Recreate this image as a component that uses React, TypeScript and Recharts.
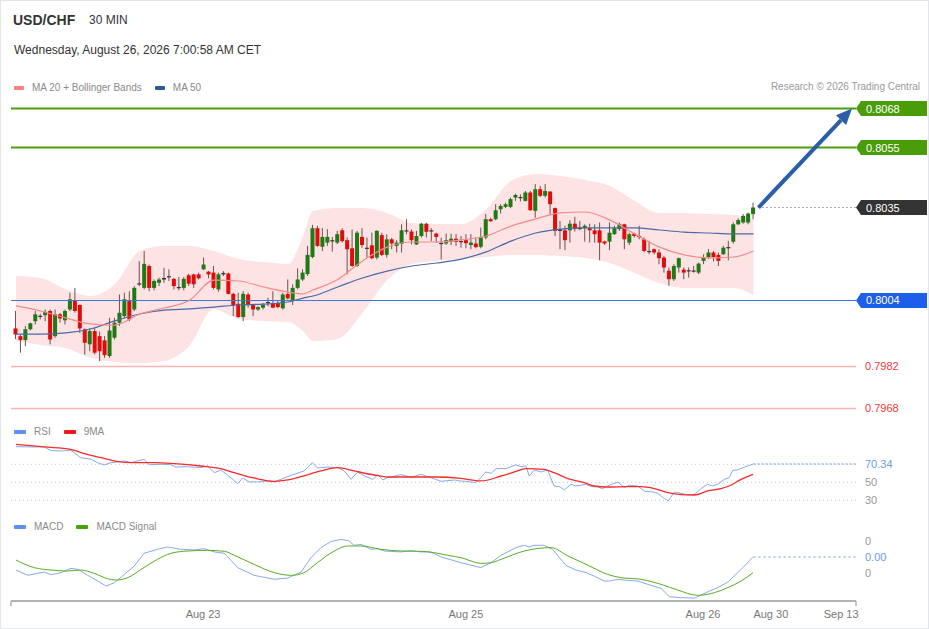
import React from 'react';
import { ComposedChart, Bar, Line, Area, XAxis, YAxis, ReferenceLine } from 'recharts';

// prices are in pips (price x 10000), one candle per 30 minutes
const open = [
  7994.7, 7992.1, 7990.8, 7994.4, 7997.1, 7998.8, 7999.1, 8000.5, 7992.1, 7999.4,
  7997.4, 8001.0, 8004.0, 8002.5, 7994.4, 7989.4, 7993.8, 7992.1, 7990.7, 7985.5,
  7991.6, 7996.6, 7998.8, 8003.8, 8001.0, 8009.6, 8008.2, 8015.5, 8008.2, 8009.9,
  8011.0, 8012.1, 8011.2, 8008.5, 8008.2, 8012.4, 8012.7, 8012.7, 8014.4, 8013.6,
  8013.3, 8007.7, 8012.7, 8013.0, 8006.2, 8002.9, 7998.5, 8006.0, 8002.5, 8001.0,
  8001.6, 8003.5, 8003.2, 8003.2, 8001.4, 8006.2, 8004.0, 8008.2, 8011.0, 8012.8,
  8018.5, 8028.1, 8021.9, 8023.3, 8024.1, 8023.3, 8027.4, 8024.1, 8021.4, 8015.5,
  8025.2, 8021.6, 8022.4, 8018.3, 8025.8, 8019.2, 8024.4, 8022.2, 8022.9, 8027.4,
  8027.0, 8022.7, 8025.5, 8029.6, 8027.4, 8026.3, 8023.2, 8023.0, 8023.6, 8024.6,
  8023.8, 8024.1, 8022.5, 8023.0, 8021.9, 8025.0, 8031.1, 8031.1, 8034.4, 8035.2,
  8035.2, 8038.3, 8038.4, 8037.2, 8040.0, 8033.9, 8041.1, 8038.9, 8040.3, 8034.8,
  8027.7, 8027.4, 8027.4, 8029.6, 8028.3, 8028.1, 8028.1, 8027.4, 8027.4, 8023.7,
  8023.6, 8026.1, 8027.8, 8029.4, 8023.3, 8026.3, 8025.5, 8024.4, 8020.5, 8021.1,
  8020.0, 8018.3, 8013.9, 8011.1, 8015.0, 8014.3, 8014.1, 8013.6, 8013.3, 8017.2,
  8018.5, 8020.0, 8019.2, 8019.4, 8021.6, 8023.6, 8029.4, 8030.0, 8030.0, 8032.8,
];
const high = [
  8000.5, 7992.7, 7995.5, 7996.6, 8000.5, 7999.6, 8001.0, 8001.0, 8001.0, 7999.9,
  8001.0, 8006.6, 8008.2, 8002.7, 7994.7, 7994.7, 7994.7, 7993.6, 7992.1, 7998.2,
  7998.2, 8006.0, 8006.6, 8007.1, 8008.8, 8017.1, 8020.5, 8016.0, 8011.0, 8011.6,
  8014.9, 8014.4, 8011.6, 8011.8, 8011.8, 8012.9, 8012.9, 8013.3, 8018.3, 8013.8,
  8015.5, 8013.3, 8013.8, 8013.3, 8006.6, 8006.6, 8007.1, 8006.6, 8002.7, 8002.1,
  8003.2, 8004.9, 8007.1, 8004.0, 8006.6, 8011.0, 8009.4, 8014.7, 8014.4, 8022.2,
  8029.2, 8028.9, 8028.1, 8027.8, 8025.2, 8027.2, 8028.1, 8025.0, 8027.7, 8027.2,
  8028.1, 8025.0, 8026.6, 8027.4, 8026.6, 8026.1, 8024.9, 8024.1, 8029.4, 8031.1,
  8027.7, 8027.2, 8029.9, 8029.9, 8028.1, 8026.6, 8024.9, 8026.3, 8026.3, 8026.1,
  8025.5, 8026.1, 8026.1, 8025.0, 8028.3, 8032.8, 8031.6, 8036.1, 8036.1, 8036.6,
  8038.3, 8039.6, 8039.4, 8040.5, 8040.5, 8042.8, 8042.2, 8042.8, 8040.5, 8035.0,
  8030.5, 8028.9, 8030.8, 8031.9, 8030.5, 8029.4, 8029.6, 8029.4, 8030.0, 8023.9,
  8030.0, 8028.9, 8030.0, 8029.6, 8026.6, 8026.6, 8028.9, 8025.0, 8023.9, 8021.4,
  8021.1, 8018.9, 8015.0, 8016.1, 8018.3, 8015.0, 8015.0, 8015.5, 8016.6, 8019.4,
  8021.1, 8020.5, 8020.0, 8022.2, 8023.9, 8030.0, 8031.4, 8032.8, 8033.3, 8036.6,
];
const low = [
  7991.1, 7986.6, 7988.8, 7994.0, 7996.0, 7997.7, 7997.1, 7989.4, 7991.6, 7996.6,
  7996.0, 8000.5, 7999.9, 7993.2, 7986.0, 7987.1, 7986.0, 7983.8, 7984.9, 7984.9,
  7991.0, 7995.5, 7998.2, 7997.1, 8000.5, 8008.8, 8007.7, 8007.1, 8007.4, 8008.8,
  8009.9, 8010.5, 8007.7, 8007.4, 8007.4, 8008.8, 8008.2, 8011.0, 8014.1, 8011.4,
  8007.7, 8006.9, 8012.1, 8006.0, 7998.8, 7998.2, 7997.1, 8001.6, 7998.8, 8000.5,
  8001.0, 8002.1, 8001.4, 8001.4, 8001.0, 8004.4, 8002.5, 8007.7, 8010.5, 8012.2,
  8018.1, 8021.9, 8020.5, 8022.2, 8020.3, 8022.8, 8023.3, 8012.7, 8015.2, 8015.2,
  8021.6, 8018.3, 8017.7, 8017.7, 8018.8, 8018.3, 8021.1, 8020.0, 8020.0, 8026.1,
  8022.7, 8022.5, 8025.0, 8025.0, 8023.8, 8023.3, 8017.7, 8022.5, 8022.5, 8022.2,
  8021.6, 8021.4, 8021.1, 8021.4, 8021.4, 8024.4, 8030.3, 8030.8, 8033.0, 8034.8,
  8034.8, 8037.2, 8037.0, 8037.0, 8033.9, 8031.6, 8038.5, 8038.3, 8032.8, 8025.5,
  8021.1, 8020.8, 8023.3, 8027.0, 8027.4, 8023.6, 8023.3, 8023.3, 8017.4, 8022.5,
  8020.8, 8025.9, 8027.2, 8021.1, 8022.5, 8025.0, 8024.4, 8020.0, 8019.4, 8019.4,
  8016.1, 8013.3, 8008.9, 8010.5, 8013.3, 8011.1, 8011.6, 8013.3, 8012.8, 8016.1,
  8017.8, 8017.0, 8015.5, 8019.2, 8017.4, 8023.0, 8029.2, 8029.6, 8029.4, 8031.1,
];
const close = [
  7992.7, 7990.8, 7994.4, 7996.4, 7999.4, 7998.9, 8000.2, 7991.0, 7999.4, 7998.0,
  8000.5, 8004.4, 8000.5, 7994.7, 7989.9, 7993.8, 7986.6, 7987.1, 7985.8, 7994.0,
  7996.6, 7999.9, 8004.4, 7997.7, 8008.2, 8009.7, 8016.2, 8008.2, 8010.5, 8011.0,
  8011.5, 8012.0, 8008.8, 8008.2, 8011.2, 8009.6, 8009.4, 8011.4, 8016.0, 8012.7,
  8008.2, 8012.7, 8013.2, 8006.2, 8002.5, 7998.5, 8006.2, 8002.5, 8001.0, 8001.8,
  8002.5, 8003.2, 8001.6, 8001.8, 8006.0, 8004.7, 8008.2, 8011.0, 8013.3, 8019.2,
  8028.1, 8022.2, 8025.2, 8025.2, 8023.9, 8026.1, 8023.8, 8021.1, 8015.5, 8026.6,
  8022.5, 8021.4, 8018.1, 8027.2, 8019.2, 8024.4, 8023.0, 8023.3, 8027.4, 8027.0,
  8024.1, 8025.5, 8029.6, 8026.9, 8027.2, 8025.2, 8023.0, 8024.1, 8024.6, 8023.6,
  8023.5, 8023.1, 8023.3, 8021.8, 8025.2, 8031.1, 8030.4, 8034.1, 8035.5, 8036.1,
  8037.8, 8039.2, 8038.5, 8040.0, 8034.1, 8041.1, 8038.9, 8040.5, 8036.1, 8027.2,
  8027.2, 8024.1, 8029.6, 8027.8, 8027.8, 8028.9, 8027.4, 8026.1, 8023.3, 8023.0,
  8026.6, 8028.1, 8029.4, 8024.4, 8026.1, 8025.5, 8025.2, 8020.5, 8020.3, 8020.0,
  8018.1, 8015.0, 8011.1, 8015.5, 8018.1, 8013.3, 8013.7, 8014.0, 8016.3, 8018.5,
  8020.0, 8018.5, 8017.2, 8021.6, 8021.8, 8029.4, 8030.8, 8032.2, 8033.0, 8035.0,
];

// moving averages and Bollinger bands, read every few candles
const bandIdx = [0, 5, 10, 15, 20, 25, 30, 35, 40, 45, 50, 55, 58, 60, 65, 70, 75, 80, 85, 90, 95, 100, 105, 110, 115, 120, 125, 130, 135, 140, 145, 149];
const ma20 = [8002.2, 8000.5, 7998.2, 7996.2, 7995.8, 7999.5, 8001.5, 8004.0, 8010.8, 8010.5, 8008.5, 8006.8, 8006.2, 8007.5, 8011.0, 8017.2, 8021.8, 8023.5, 8023.5, 8024.2, 8025.5, 8028.8, 8031.2, 8033.2, 8033.5, 8030.8, 8026.2, 8021.8, 8019.2, 8018.2, 8018.5, 8020.5];
const ma50 = [7992.8, 7992.8, 7993.2, 7994.5, 7997.2, 7999.5, 8000.8, 8001.2, 8001.8, 8002.5, 8002.8, 8003.5, 8004.8, 8005.5, 8008.5, 8011.5, 8013.8, 8015.5, 8016.5, 8017.8, 8020.2, 8023.8, 8026.5, 8027.8, 8028.2, 8028.2, 8028.2, 8027.5, 8026.8, 8026.5, 8026.2, 8026.2];
const bbUpper = [8012.2, 8011.5, 8007.8, 8005.5, 8009.5, 8020.5, 8022.2, 8022.2, 8020.5, 8017.8, 8016.8, 8016.2, 8025.5, 8033.8, 8034.8, 8034.8, 8033.2, 8029.8, 8029.5, 8029.5, 8034.5, 8043.8, 8046.2, 8045.5, 8044.2, 8042.2, 8037.2, 8033.2, 8033.2, 8032.8, 8032.5, 8031.2];
const bbLower = [7990.5, 7989.2, 7988.2, 7985.0, 7983.5, 7983.2, 7983.8, 7988.8, 8001.2, 7997.8, 7997.2, 7996.8, 7993.8, 7990.5, 7991.2, 7999.8, 8010.8, 8016.2, 8017.2, 8017.8, 8018.5, 8019.2, 8019.2, 8018.8, 8018.2, 8016.5, 8013.2, 8009.8, 8008.2, 8008.2, 8008.2, 8005.8];

// [candle index, value]
const rsiPoints: [number, number][] = [
  [0, 89.6], [3, 89.3], [5.7, 89.3], [7.1, 85.2], [9.1, 84.8], [11.1, 85.6], [13.1, 77.4], [15.2, 75.6], [16.5, 71.8], [17.8, 69.3],
  [19.2, 71.8], [21.9, 73.7], [23.2, 71.8], [25.9, 75.6], [26.9, 69.6], [29.3, 70.0], [31.3, 69.6], [32.3, 67.0], [34.7, 67.4], [37.4, 66.3],
  [38.7, 68.1], [40.1, 60.7], [41.4, 63.7], [42.8, 57.8], [44.8, 48.5], [45.8, 54.8], [47.1, 50.4], [48.8, 50.4], [50.8, 51.5], [52.2, 50.4],
  [54.2, 54.8], [56.2, 58.9], [58.2, 62.6], [59.9, 71.8], [60.9, 65.9], [63, 67.0], [65, 66.3], [66.3, 62.6], [67.7, 53.3], [69, 61.5],
  [70.4, 57.0], [72.1, 53.3], [73.1, 58.5], [74.1, 52.6], [75.1, 55.2], [77.8, 58.5], [79.8, 55.6], [81.8, 58.9], [83.8, 55.2], [85.9, 51.1],
  [88.6, 52.6], [89.9, 51.3], [90.9, 51.1], [92.9, 49.6], [93.9, 55.2], [94.9, 61.5], [96, 60.0], [97, 65.2], [99, 65.2], [100, 67.4],
  [101, 69.3], [102, 67.4], [103, 68.1], [103.7, 57.0], [104.7, 63.7], [106.1, 61.5], [107.4, 63.7], [108.7, 45.9], [109.8, 45.2], [110.8, 41.5],
  [112.1, 47.8], [113.1, 45.9], [114.1, 46.7], [115.2, 47.8], [116.2, 45.2], [117.5, 44.8], [118.5, 43.0], [119.5, 45.9], [120.5, 48.1], [121.6, 50.4],
  [122.9, 44.1], [123.9, 46.7], [125.6, 45.9], [127, 40.0], [128.6, 39.3], [129.6, 37.8], [131, 31.9], [131.8, 29.3], [133, 39.3], [134.3, 37.8],
  [135.7, 35.9], [137.1, 36.7], [138.4, 43.0], [139.7, 47.8], [140.7, 45.9], [141.8, 47.8], [143.1, 53.3], [144.1, 55.2], [144.8, 63.3], [145.8, 63.7],
  [146.8, 66.3], [147.8, 68.1], [149, 70.34],
];
const rsiMaPoints: [number, number][] = [
  [0, 92.2], [5.7, 89.3], [11.1, 86.7], [13.1, 83.0], [17.2, 77.4], [20.2, 73.3], [23.9, 71.8], [27.9, 71.8], [32, 70.7], [37.4, 68.1],
  [41.4, 65.2], [44.1, 60.7], [48.1, 54.8], [52.2, 51.1], [54.9, 52.6], [57.6, 56.3], [61.6, 62.6], [65, 66.3], [68.3, 62.6], [72.4, 58.1],
  [75.1, 55.9], [80.5, 55.9], [84.5, 55.9], [89.9, 54.4], [93.9, 51.5], [98, 57.0], [100.7, 61.5], [103, 65.2], [106.7, 64.4], [108.7, 60.7],
  [111.5, 54.1], [114.8, 49.6], [116.8, 45.9], [119.5, 44.8], [123.6, 45.2], [126.3, 45.2], [129, 43.0], [131.7, 38.5], [134.3, 36.3], [137.1, 35.9],
  [139.7, 40.4], [142.4, 43.0], [144.4, 46.7], [146.5, 53.3], [148.9, 58.9],
];
// MACD values in units of 0.0001
const macdPoints: [number, number][] = [
  [0, -1.63], [2.4, -2.29], [4.4, -2.04], [5.7, -1.88], [7.1, -2.21], [9.1, -1.96], [11.1, -1.42], [12.5, -1.54], [14.5, -2.29], [16.5, -3.0],
  [18.2, -3.63], [19.9, -3.21], [21.9, -2.17], [23.9, -1.13], [25.9, 0.46], [28.6, 0.96], [30.6, 1.25], [33.3, 0.96], [36, 0.88], [38, 1.04],
  [40.1, 0.63], [42.1, 0.46], [44.8, -1.33], [48.1, -2.29], [52.2, -2.79], [54.9, -2.63], [57.6, -1.88], [59.6, -0.08], [61.6, 1.17], [63.6, 1.92],
  [65.7, 2.21], [67.3, 2.0], [68.3, 1.46], [69.7, 1.58], [71.7, 0.96], [73.1, 1.04], [74.4, 0.75], [77.8, 0.63], [79.8, 0.79], [81.8, 0.63],
  [83.8, 0.63], [85.9, 0.0], [89.9, -0.71], [93.9, -1.33], [96, -0.71], [98, 0.21], [101, 1.17], [102.7, 1.46], [103.7, 1.25], [104.7, 1.46],
  [106.7, 1.46], [108.4, 0.96], [111.1, -1.04], [113.1, -1.63], [115.2, -1.96], [116.8, -2.38], [118.8, -3.0], [119.9, -3.0], [121.6, -2.79], [123.6, -2.92],
  [125.6, -3.0], [127.6, -3.42], [130.3, -3.92], [132, -4.96], [134.3, -5.08], [137.1, -5.13], [140.1, -4.25], [141.8, -3.83], [143.8, -3.13], [146.5, -1.54],
  [148.9, 0.0],
];
const signalPoints: [number, number][] = [
  [0, -0.38], [3.7, -1.33], [7.1, -1.63], [10.4, -1.75], [13.1, -1.63], [15.8, -2.04], [18.5, -2.71], [20.2, -2.88], [22.6, -2.58], [25.3, -1.54],
  [28.6, -0.29], [31.3, 0.46], [34.7, 0.75], [38.7, 0.83], [42.1, 0.71], [44.1, 0.21], [48.1, -0.92], [52.2, -1.96], [55.6, -2.29], [58.2, -1.96],
  [60.9, -0.71], [64.3, 0.75], [67, 1.38], [69.7, 1.38], [73.7, 0.96], [77.8, 0.75], [81.8, 0.71], [84.5, 0.54], [87.2, 0.21], [89.9, -0.08],
  [93.9, -0.79], [96, -0.71], [98, -0.29], [102.7, 0.75], [108.1, 1.17], [111.5, 0.13], [115.6, -1.04], [119.5, -2.17], [122.2, -2.58], [126.3, -2.79],
  [130.3, -3.42], [133.7, -4.13], [137.7, -4.79], [141.1, -4.46], [143.8, -3.83], [146.5, -3.0], [148.9, -1.96],
];

const tickAt = [-1, 37.8, 90.9, 138.8, 152.5, 166.7, 169.7];
const tickText = ['', 'Aug 23', 'Aug 25', 'Aug 26', 'Aug 30', 'Sep 13', ''];

const lastClose = 8035;
const lastRsi = 70.34;
const lastMacd = 0;

const X_DOMAIN: [number, number] = [-1, 169.7];
const FONT = '"Liberation Sans", Arial, Helvetica, sans-serif';
const MARGIN = { top: 0, right: 74, bottom: 0, left: 10 };

const candles = open.map((o, i) => ({ i, open: o, high: high[i], low: low[i], close: close[i], range: [low[i], high[i]] }));
const bands = bandIdx.map((i, k) => ({ i, ma20: ma20[k], ma50: ma50[k], bb: [bbLower[k], bbUpper[k]] }));
const toRows = (pts: [number, number][]) => pts.map(([i, v]) => ({ i, v }));

function Candle(props: any) {
  const { x, y, width, height } = props;
  const d = props.payload ?? props;
  const span = d.high - d.low || 1;
  const k = height / span;
  const cx = x + width / 2;
  const top = y + (d.high - Math.max(d.open, d.close)) * k;
  const bh = Math.max(Math.abs(d.open - d.close) * k, 1.2);
  const doji = Math.abs(d.open - d.close) < 0.6;
  const fill = doji ? '#3b2f2f' : d.close > d.open ? '#1f7a16' : '#e30a0a';
  return (
    <g>
      <line x1={cx} x2={cx} y1={y} y2={y + height} stroke="#6a5252" strokeWidth={1} />
      <rect x={x} y={top} width={width} height={bh} fill={fill} />
    </g>
  );
}

function Tag(props: any) {
  const vb = props.viewBox ?? { x: 0, y: 0, width: 0 };
  const x = vb.x + vb.width;
  const y = vb.y;
  const pts = [[x, y], [x + 5, y - 7.5], [x + 71, y - 7.5], [x + 71, y + 7.5], [x + 5, y + 7.5]]
    .map((p) => p.join(',')).join(' ');
  return (
    <g>
      <polygon points={pts} fill={props.fill} />
      <text x={x + 10} y={y + 4} fill="#fff" fontSize={11} fontFamily={FONT}>{props.text}</text>
    </g>
  );
}

function SideText(props: any) {
  const vb = props.viewBox ?? { x: 0, y: 0, width: 0 };
  return (
    <text x={vb.x + vb.width + 9} y={vb.y + 4} fill={props.color} fontSize={11} fontFamily={FONT}>{props.text}</text>
  );
}

function Arrow(props: any) {
  const { x1, y1, x2, y2 } = props;
  const a = Math.atan2(y2 - y1, x2 - x1);
  const len = 16;
  const half = 7;
  const bx = x2 - len * Math.cos(a);
  const by = y2 - len * Math.sin(a);
  const px = -Math.sin(a) * half;
  const py = Math.cos(a) * half;
  return (
    <g>
      <line x1={x1} y1={y1} x2={bx} y2={by} stroke="#2c5ea7" strokeWidth={4} />
      <polygon points={`${x2},${y2} ${bx + px},${by + py} ${bx - px},${by - py}`} fill="#2c5ea7" />
    </g>
  );
}

function AxisTick(props: any) {
  const { x, y, payload } = props;
  const text = tickText[tickAt.indexOf(payload.value)];
  if (!text) return <line x1={x} x2={x} y1={y} y2={y + 5} stroke="#b3b3b3" strokeWidth={1.5} />;
  return (
    <text x={x} y={y + 17} textAnchor="middle" fill="#777" fontSize={11} fontFamily={FONT}>{text}</text>
  );
}

function Swatch({ color, w }: { color: string; w: number }) {
  return <span style={{ display: 'inline-block', width: w, height: 4, background: color, borderRadius: 1, marginRight: 8, verticalAlign: 'middle' }} />;
}

const legendText: React.CSSProperties = { fontSize: 10, color: '#8a8a8a', lineHeight: '12px', verticalAlign: 'middle' };
const legendRow: React.CSSProperties = { position: 'absolute', left: 13, whiteSpace: 'nowrap', lineHeight: '12px', height: 12 };

export default function App() {
  return (
    <div style={{ position: 'absolute', left: 0, top: 0, width: 929, height: 629, background: '#fff', border: '1px solid #e3e6e9', boxSizing: 'border-box', fontFamily: FONT, overflow: 'hidden' }}>
      <div style={{ position: 'absolute', left: 12, top: 11, fontSize: 14, fontWeight: 700, color: '#333', lineHeight: '16px' }}>USD/CHF</div>
      <div style={{ position: 'absolute', left: 88, top: 12, fontSize: 12, color: '#333', lineHeight: '14px' }}>30 MIN</div>
      <div style={{ position: 'absolute', left: 13, top: 42, fontSize: 12, color: '#333', lineHeight: '14px' }}>Wednesday, August 26, 2026 7:00:58 AM CET</div>

      <div style={{ ...legendRow, top: 80 }}>
        <Swatch color="#f77f7f" w={10} /><span style={legendText}>MA 20 + Bollinger Bands</span>
        <span style={{ display: 'inline-block', width: 13 }} />
        <Swatch color="#2d5a9b" w={10} /><span style={legendText}>MA 50</span>
      </div>
      <div style={{ position: 'absolute', right: 8, top: 80, fontSize: 10, color: '#9a9a9a', lineHeight: '12px' }}>Research © 2026 Trading Central</div>

      <div style={{ ...legendRow, top: 424 }}>
        <Swatch color="#5d8ff0" w={12} /><span style={legendText}>RSI</span>
        <span style={{ display: 'inline-block', width: 13 }} />
        <Swatch color="#f01818" w={12} /><span style={legendText}>9MA</span>
      </div>
      <div style={{ ...legendRow, top: 519 }}>
        <Swatch color="#5d8ff0" w={12} /><span style={legendText}>MACD</span>
        <span style={{ display: 'inline-block', width: 13 }} />
        <Swatch color="#46a30c" w={12} /><span style={legendText}>MACD Signal</span>
      </div>

      <div style={{ position: 'absolute', left: 0, top: 80 }}>
        <ComposedChart width={929} height={334} data={candles} margin={MARGIN}>
          <XAxis type="number" dataKey="i" domain={X_DOMAIN} hide allowDataOverflow />
          <YAxis type="number" domain={[7965.83, 8077.17]} hide allowDataOverflow />
          <Area data={bands} dataKey="bb" type="monotone" stroke="none" fill="#fde3e3" fillOpacity={1} dot={false} activeDot={false} isAnimationActive={false} />
          <ReferenceLine y={8068} stroke="#4c9e0e" strokeWidth={2} label={<Tag text="0.8068" fill="#4a9c08" />} />
          <ReferenceLine y={8055} stroke="#4c9e0e" strokeWidth={2} label={<Tag text="0.8055" fill="#4a9c08" />} />
          <ReferenceLine y={8004} stroke="#3f78dc" strokeWidth={1.2} label={<Tag text="0.8004" fill="#1d5fea" />} />
          <ReferenceLine y={7982} stroke="#f9b5b5" strokeWidth={1.5} label={<SideText text="0.7982" color="#f03a3a" />} />
          <ReferenceLine y={7968} stroke="#f9b5b5" strokeWidth={1.5} label={<SideText text="0.7968" color="#f03a3a" />} />
          <ReferenceLine segment={[{ x: 150, y: lastClose }, { x: X_DOMAIN[1], y: lastClose }]} stroke="#555" strokeDasharray="1 3" label={<Tag text="0.8035" fill="#333333" />} />
          <Line data={bands} dataKey="ma50" type="monotone" stroke="#4a6aa5" strokeWidth={1.2} dot={false} activeDot={false} isAnimationActive={false} />
          <Line data={bands} dataKey="ma20" type="monotone" stroke="#f48a8a" strokeWidth={1.2} dot={false} activeDot={false} isAnimationActive={false} />
          <Bar dataKey="range" barSize={4} shape={<Candle />} isAnimationActive={false} />
          <ReferenceLine segment={[{ x: 150, y: lastClose }, { x: 168.9, y: 8068 }]} shape={<Arrow />} />
        </ComposedChart>
      </div>

      <div style={{ position: 'absolute', left: 0, top: 440 }}>
        <ComposedChart width={929} height={70} margin={MARGIN}>
          <XAxis type="number" dataKey="i" domain={X_DOMAIN} hide allowDataOverflow />
          <YAxis type="number" domain={[18.1, 95.9]} hide allowDataOverflow />
          <ReferenceLine y={70} stroke="#c4c4c4" strokeDasharray="1 3" />
          <ReferenceLine y={50} stroke="#c4c4c4" strokeDasharray="1 3" label={<SideText text="50" color="#999" />} />
          <ReferenceLine y={30} stroke="#c4c4c4" strokeDasharray="1 3" label={<SideText text="30" color="#999" />} />
          <ReferenceLine segment={[{ x: 149, y: lastRsi }, { x: X_DOMAIN[1], y: lastRsi }]} stroke="#6f9be9" strokeDasharray="2 2" label={<SideText text="70.34" color="#6f9be9" />} />
          <Line data={toRows(rsiPoints)} dataKey="v" type="linear" stroke="#86aaed" strokeWidth={1} dot={false} activeDot={false} isAnimationActive={false} />
          <Line data={toRows(rsiMaPoints)} dataKey="v" type="monotone" stroke="#f52a2a" strokeWidth={1.3} dot={false} activeDot={false} isAnimationActive={false} />
        </ComposedChart>
      </div>

      <div style={{ position: 'absolute', left: 0, top: 530 }}>
        <ComposedChart width={929} height={100} margin={MARGIN}>
          <XAxis type="number" dataKey="i" domain={X_DOMAIN} allowDataOverflow ticks={tickAt} interval={0} tick={<AxisTick />}
            tickLine={false} tickSize={0} tickMargin={0} axisLine={{ stroke: '#b3b3b3', strokeWidth: 2 }} height={30} />
          <YAxis type="number" domain={[-5.5, 3.25]} hide allowDataOverflow />
          <ReferenceLine y={2} stroke="none" label={<SideText text="0" color="#999" />} />
          <ReferenceLine y={-2} stroke="none" label={<SideText text="0" color="#999" />} />
          <ReferenceLine segment={[{ x: 149, y: lastMacd }, { x: X_DOMAIN[1], y: lastMacd }]} stroke="#6f9be9" strokeDasharray="2 3" label={<SideText text="0.00" color="#6f9be9" />} />
          <Line data={toRows(macdPoints)} dataKey="v" type="linear" stroke="#86aaed" strokeWidth={1} dot={false} activeDot={false} isAnimationActive={false} />
          <Line data={toRows(signalPoints)} dataKey="v" type="monotone" stroke="#5aab24" strokeWidth={1} dot={false} activeDot={false} isAnimationActive={false} />
        </ComposedChart>
      </div>
    </div>
  );
}
